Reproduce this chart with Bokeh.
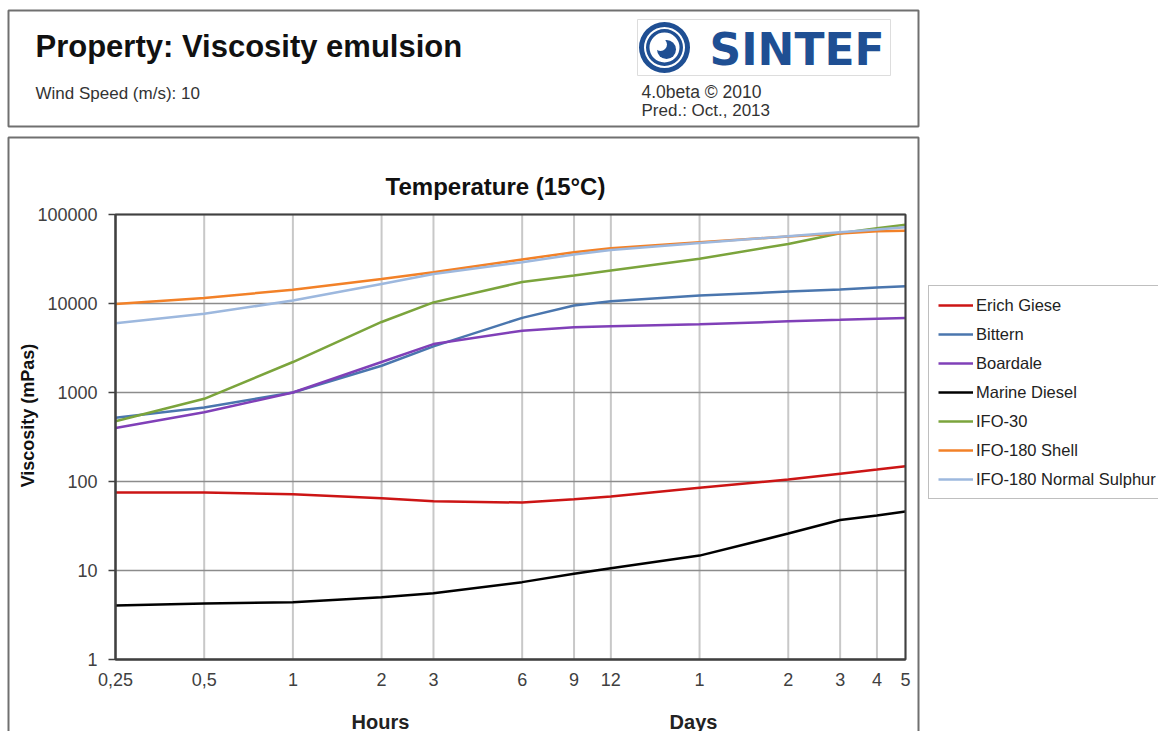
import math
from bokeh.plotting import figure
from bokeh.models import (Range1d, FixedTicker, Legend, LegendItem, LinearScale)
from bokeh.core.properties import value
from bokeh.embed import file_html
from bokeh.resources import INLINE

# ---- data ----
hours = [0.25, 0.5, 1, 2, 3, 6, 9, 12, 24, 48, 72, 96, 120]
erich_giese = [75, 75, 72, 65, 60, 58, 63, 68, 85, 105, 122, 136, 148]
bittern = [520, 680, 1000, 2000, 3300, 6900, 9500, 10600, 12300, 13600, 14400, 15100, 15600]
boardale = [400, 600, 1000, 2200, 3500, 4950, 5400, 5550, 5850, 6300, 6550, 6750, 6850]
marine_diesel = [4.05, 4.25, 4.4, 5.0, 5.55, 7.4, 9.2, 10.6, 14.7, 26, 37, 41.5, 46]
ifo_30 = [476, 850, 2200, 6200, 10300, 17400, 20600, 23500, 31800, 46700, 61600, 70100, 76500]
ifo_180_shell = [9900, 11500, 14300, 18900, 22400, 31200, 37700, 41700, 48900, 56600, 61200, 64700, 65600]
ifo_180_normal = [6000, 7650, 10800, 16600, 21400, 29100, 35500, 39900, 47900, 57100, 63200, 67800, 71900]

series_names = ["Erich Giese", "Bittern", "Boardale", "Marine Diesel", "IFO-30",
                "IFO-180 Shell", "IFO-180 Normal Sulphur"]
series_values = [erich_giese, bittern, boardale, marine_diesel, ifo_30, ifo_180_shell, ifo_180_normal]
series_colors = ["#CC1515", "#4A76AE", "#8040B8", "#000000", "#7BA43C", "#F28128", "#9DB8DE"]

x_ticks = [0.25, 0.5, 1, 2, 3, 6, 9, 12, 24, 48, 72, 96, 120]
x_tick_labels = ["0,25", "0,5", "1", "2", "3", "6", "9", "12", "1", "2", "3", "4", "5"]
y_ticks = [1, 10, 100, 1000, 10000, 100000]
y_tick_labels = ["1", "10", "100", "1000", "10000", "100000"]
x_min, x_max = 0.25, 120
y_min, y_max = 1, 100000

FONT = "Liberation Sans"
W, H = 1158, 731

# plot-area placement on the canvas (pixels)
PL, PR, PT, PB = 115, 905, 214, 659
kx = math.log10(x_max / x_min) / (PR - PL)
ky = math.log10(y_max / y_min) / (PB - PT)
xr = Range1d(10 ** (math.log10(x_min) - PL * kx), 10 ** (math.log10(x_max) + (W - PR) * kx))
yr = Range1d(10 ** (math.log10(y_min) - (H - PB) * ky), 10 ** (math.log10(y_max) + PT * ky))

p = figure(width=W, height=H, x_axis_type="log", y_axis_type="log",
           x_range=xr, y_range=yr, output_backend="svg", toolbar_location=None,
           min_border=0, min_border_left=0, min_border_right=0,
           min_border_top=0, min_border_bottom=0)
p.background_fill_color = "white"
p.border_fill_color = "white"
p.outline_line_color = None
p.xgrid.visible = False
p.ygrid.visible = False

# pixel-space ranges for page decorations
p.extra_x_ranges = {"px": Range1d(0, W)}
p.extra_y_ranges = {"py": Range1d(H, 0)}
p.extra_x_scales = {"px": LinearScale()}
p.extra_y_scales = {"py": LinearScale()}
PX = dict(x_range_name="px", y_range_name="py")

# axes at the plot-area edges
p.xaxis.fixed_location = y_min
p.yaxis.fixed_location = x_min
p.xaxis.bounds = (x_min, x_max)
p.yaxis.bounds = (y_min, y_max)
p.xaxis.ticker = FixedTicker(ticks=x_ticks)
p.xaxis.major_label_overrides = {float(t): l for t, l in zip(x_ticks, x_tick_labels)}
p.yaxis.ticker = FixedTicker(ticks=y_ticks)
p.yaxis.major_label_overrides = {float(t): l for t, l in zip(y_ticks, y_tick_labels)}
for ax in (p.xaxis, p.yaxis):
    ax.axis_line_color = "#404040"
    ax.axis_line_width = 2
    ax.major_label_text_font = FONT
    ax.major_label_text_font_size = "18px"
    ax.major_label_text_color = "#404040"
    ax.minor_tick_line_color = None
    ax.major_tick_in = 0
p.xaxis.major_tick_out = 0
p.xaxis.major_label_standoff = 13
p.yaxis.major_tick_out = 7
p.yaxis.major_tick_line_color = "#404040"
p.yaxis.major_tick_line_width = 1.5
p.yaxis.major_label_standoff = 11

# page boxes
p.quad(left=[8], right=[918], top=[10], bottom=[126], fill_color=None,
       line_color="#707070", line_width=2, **PX)
p.quad(left=[8], right=[918], top=[137], bottom=[760], fill_color=None,
       line_color="#707070", line_width=2, **PX)
p.quad(left=[637], right=[890], top=[19], bottom=[75], fill_color=None,
       line_color="#dddddd", line_width=1, **PX)

# SINTEF emblem
BLUE = "#1F4F93"
p.annulus(x=[664], y=[47], inner_radius=20.5, outer_radius=25.5, fill_color=BLUE, line_color=None, **PX)
p.annulus(x=[664], y=[47], inner_radius=15, outer_radius=18.5, fill_color=BLUE, line_color=None, **PX)
p.circle(x=[666], y=[49], radius=9.5, fill_color=BLUE, line_color=None, **PX)
p.circle(x=[660], y=[44], radius=6.5, fill_color="white", line_color=None, **PX)


def txt(x, y, s, size, bold=False, color="#000000", align="left", font=FONT, **kw):
    p.text(x=[x], y=[y], text=[s], text_font=value(font), text_font_size=value(size),
           text_font_style="bold" if bold else "normal", text_color=color,
           text_align=align, text_baseline="middle", **kw)


txt(35, 46, "Property: Viscosity emulsion", "31px", bold=True, color="#111111", **PX)
txt(35, 93, "Wind Speed (m/s): 10", "17px", color="#333333", **PX)
txt(641, 91, "4.0beta © 2010", "17.5px", color="#333333", **PX)
txt(641, 110, "Pred.: Oct., 2013", "17px", color="#333333", **PX)
txt(709, 49, "SINTEF", "44px", bold=True, color=BLUE, font="DejaVu Sans", **PX)
txt(495, 186, "Temperature (15°C)", "24px", bold=True, color="#111111", align="center", **PX)
txt(27, 415, "Viscosity (mPas)", "18px", bold=True, color="#111111", align="center",
    angle=math.pi / 2, **PX)
txt(380, 721, "Hours", "20px", bold=True, color="#222222", align="center", **PX)
txt(693, 721, "Days", "20px", bold=True, color="#222222", align="center", **PX)

# grid lines (through the log scales)
p.segment(x0=x_ticks, y0=[y_min] * len(x_ticks), x1=x_ticks, y1=[y_max] * len(x_ticks),
          line_color="#c8c8c8", line_width=2)
p.segment(x0=[x_min] * len(y_ticks), y0=y_ticks, x1=[x_max] * len(y_ticks), y1=y_ticks,
          line_color="#8c8c8c", line_width=1.5)

items = []
for name, vals, col in zip(series_names, series_values, series_colors):
    r = p.line(hours, vals, line_color=col, line_width=2.5)
    items.append(LegendItem(label=name, renderers=[r]))

# plot-area border
p.quad(left=[x_min], right=[x_max], bottom=[y_min], top=[y_max], fill_color=None,
       line_color="#404040", line_width=2)

legend = Legend(items=items, location=(928, H - 499))
legend.label_text_font = FONT
legend.label_text_font_size = "16.5px"
legend.label_text_color = "#222222"
legend.glyph_width = 35
legend.glyph_height = 20
legend.label_height = 20
legend.label_standoff = 3
legend.spacing = 9
legend.padding = 9
legend.margin = 0
legend.border_line_color = "#808080"
legend.border_line_width = 1.5
legend.background_fill_alpha = 1
p.add_layout(legend)

open("out.html", "w").write(file_html(p, INLINE))
